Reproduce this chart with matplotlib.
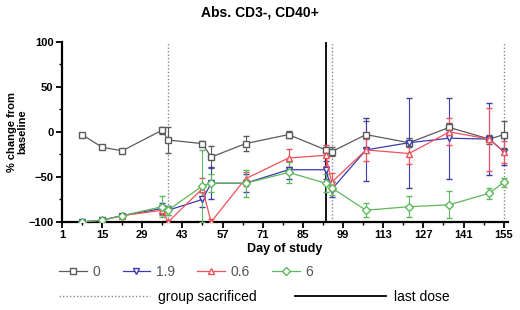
import numpy as np
import matplotlib
matplotlib.use("Agg")
import matplotlib.pyplot as plt
from matplotlib.lines import Line2D

plt.rcParams["font.family"] = ["Liberation Sans", "DejaVu Sans"]

days = [8, 15, 22, 36, 38, 50, 53, 65, 80, 93, 95, 107, 122, 136, 150, 155]

dose_labels = ["0", "1.9", "0.6", "6"]
vals_0 = [-3, -17, -21, 2, -9, -13, -28, -13, -3, -20, -22, -3, -12, 5, -8, -3]
err_0 = [2, 2, 2, 4, 14, 3, 12, 8, 4, 3, 5, 15, 5, 5, 5, 15]
vals_19 = [-100, -98, -93, -85, -87, -75, -57, -57, -42, -42, -64, -20, -12, -7, -8, -22]
err_19 = [0, 1, 2, 6, 5, 8, 18, 10, 10, 10, 8, 35, 50, 45, 40, 15]
vals_06 = [-100, -98, -93, -87, -100, -63, -100, -52, -29, -26, -56, -20, -24, 0, -8, -22]
err_06 = [0, 1, 2, 5, 2, 12, 3, 8, 10, 12, 10, 12, 12, 15, 35, 12]
vals_6 = [-100, -98, -93, -83, -87, -60, -57, -57, -45, -57, -62, -87, -83, -81, -68, -56]
err_6 = [0, 1, 2, 12, 5, 40, 10, 15, 12, 10, 8, 8, 12, 15, 6, 5]

sacrifice_days = [38, 95, 155]
last_dose_day = 93

x_ticks = [1, 15, 29, 43, 57, 71, 85, 99, 113, 127, 141, 155]
y_ticks = [-100, -50, 0, 50, 100]

series = [
    (dose_labels[0], vals_0, err_0, "#5a5a5a", "s"),
    (dose_labels[1], vals_19, err_19, "#3b3bb0", "v"),
    (dose_labels[2], vals_06, err_06, "#f0505a", "^"),
    (dose_labels[3], vals_6, err_6, "#5cb85c", "D"),
]

fig = plt.figure(figsize=(5.2, 3.1), dpi=100)
ax = fig.add_axes([0.119, 0.284, 0.858, 0.581])

for d in sacrifice_days:
    ax.plot([d, d], [-100, 100], ls=(0, (1, 1.5)), color="#888888", lw=1.0, zorder=1)
ax.plot([last_dose_day, last_dose_day], [-100, 100], color="black", lw=1.3, zorder=1)

handles = []
for label, v, e, c, m in series:
    ax.errorbar(days, v, yerr=e, color=c, lw=0.9, marker=m, ms=4.5,
                mfc="white", mec=c, mew=1.0, capsize=2.5, elinewidth=0.8,
                zorder=3)
    handles.append(Line2D([], [], color=c, marker=m, ms=4.5, mfc="white",
                          mec=c, lw=0.9, label=label))

ax.set_xlim(1, 156.5)
ax.set_ylim(-100, 100)
ax.set_xticks(x_ticks)
ax.set_xticks(np.arange(8, 156, 14), minor=True)
ax.set_yticks(y_ticks)
ax.set_yticks([-75, -25, 25, 75], minor=True)
ax.tick_params(labelsize=8, width=1.3, length=4, direction="out", pad=2)
ax.tick_params(which="minor", width=1.0, length=2.5)
for lab in ax.get_xticklabels() + ax.get_yticklabels():
    lab.set_fontweight("bold")
for s in ["top", "right"]:
    ax.spines[s].set_visible(False)
for s in ["left", "bottom"]:
    ax.spines[s].set_linewidth(1.6)

ax.set_xlabel("Day of study", fontsize=9, fontweight="bold", labelpad=2)
ax.set_ylabel("% change from\nbaseline", fontsize=8, fontweight="bold",
              labelpad=1, linespacing=1.0)
fig.text(0.5, 0.96, "Abs. CD3-, CD40+", ha="center", va="center",
         fontsize=10, fontweight="bold")

leg1 = fig.legend(handles=handles, loc="center left", ncol=4,
                  bbox_to_anchor=(0.09, 0.123), frameon=False, fontsize=10,
                  handlelength=2.0, columnspacing=1.6, handletextpad=0.4)
for t in leg1.get_texts():
    t.set_color("#555555")

ref_handles = [
    Line2D([], [], color="#888888", ls=(0, (1, 1.5)), lw=1.0, label="group sacrificed"),
    Line2D([], [], color="black", lw=1.3, label="last dose"),
]
leg2 = fig.legend(handles=ref_handles, loc="center left", ncol=2,
                  bbox_to_anchor=(0.09, 0.042), frameon=False, fontsize=10,
                  handlelength=6.5, columnspacing=2.8, handletextpad=0.6)

fig.savefig("out.png", dpi=100)
